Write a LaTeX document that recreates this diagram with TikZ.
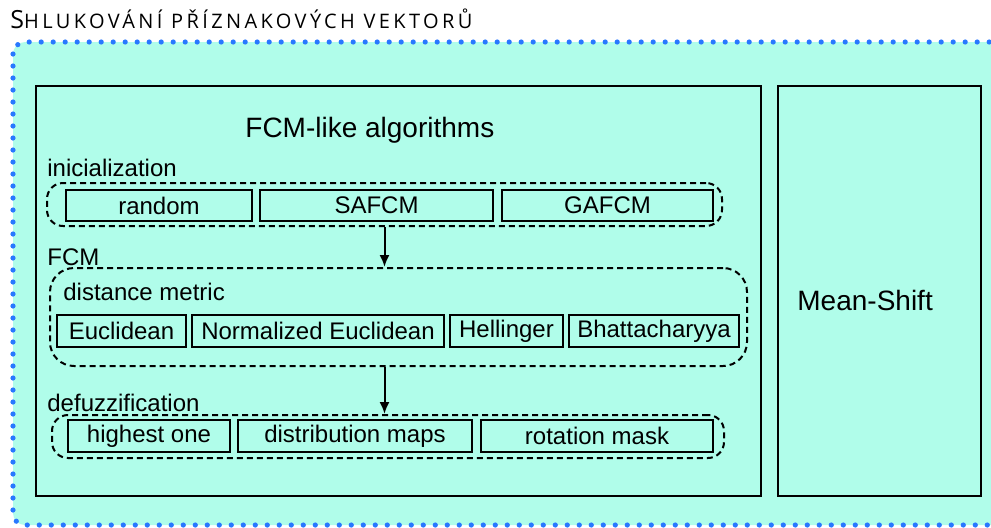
\documentclass[tikz,border=0pt]{standalone}
\usepackage{fontspec}
\setmainfont{Liberation Sans}
\newfontfamily\titlefont[LetterSpace=17]{Open Sans}
\usepackage{xcolor}
\usetikzlibrary{arrows.meta,positioning}

\definecolor{aquabg}{RGB}{176,253,234}
\definecolor{dotblue}{RGB}{40,120,255}

\tikzset{
  item/.style={draw, line width=1pt, inner sep=0pt, font=\fontsize{12}{14}\selectfont},
  group/.style={draw, dash pattern=on 3pt off 2pt, line width=1pt, rounded corners=8pt, inner sep=0pt},
  grouplabel/.style={anchor=base west, inner sep=0pt, font=\fontsize{12}{14}\selectfont},
  flow/.style={-{Latex[length=6pt,width=5pt]}, line width=1pt},
}

\begin{document}
\begin{tikzpicture}[x=0.5pt, y=-0.5pt]
\clip (0,0) rectangle (991,527);
% outer cluster
\fill[aquabg, rounded corners=6pt] (13,42) rectangle (1010,525);
\draw[dotblue, line width=2.6pt, dash pattern=on 0pt off 6pt, line cap=round, rounded corners=6pt] (13,42) rectangle (1010,525);
\node[anchor=base west, inner sep=0pt] (title) at (10,28.5) {\titlefont{\fontsize{12.5}{13}\selectfont S}\fontsize{10}{12}\selectfont HLUKOVÁNÍ PŘÍZNAKOVÝCH VEKTORŮ};

% main boxes
\node[draw, line width=1pt, minimum width=362.5pt, minimum height=205pt] (fcmlike) at (398.5,291) {};
\node[draw, line width=1pt, minimum width=101.5pt, minimum height=205pt] (meanshift) at (879.5,291) {};
\node[anchor=base west, inner sep=0pt, font=\fontsize{14}{16}\selectfont] (fcmtitle) at (245,137) {FCM-like algorithms};
\node[anchor=base west, inner sep=0pt, font=\fontsize{14}{16}\selectfont] (mstitle) at (797,310) {Mean-Shift};

% inicialization
\node[grouplabel] (initlabel) at (47,176) {inicialization};
\node[group, minimum width=337.5pt, minimum height=21.5pt] (init) at (384.5,204.5) {};
\node[item, minimum width=93pt, minimum height=15.5pt] (random) at (159,205.5) {random};
\node[item, minimum width=116.5pt, minimum height=15.5pt] (safcm) at (376.5,205.5) {SAFCM};
\node[item, minimum width=105.5pt, minimum height=15.5pt] (gafcm) at (607.5,205.5) {GAFCM};

% FCM
\node[grouplabel] (fcmlabel) at (47,265) {FCM};
\node[group, rounded corners=12pt, minimum width=348.5pt, minimum height=49pt] (fcm) at (398.5,317) {};
\node[grouplabel] (distlabel) at (63,300.5) {distance metric};
\node[item, minimum width=64.5pt, minimum height=16pt] (euclid) at (121.5,331) {Euclidean};
\node[item, minimum width=126pt, minimum height=16pt] (normeuclid) at (318,331) {Normalized Euclidean};
\node[item, minimum width=56.5pt, minimum height=16pt] (hellinger) at (506.5,331) {Hellinger};
\node[item, minimum width=85pt, minimum height=16pt] (bhatta) at (654,331) {Bhattacharyya};

% defuzzification
\node[grouplabel] (defuzzlabel) at (47,411) {defuzzification};
\node[group, minimum width=336pt, minimum height=21.5pt] (defuzz) at (388,436.5) {};
\node[item, minimum width=81pt, minimum height=16pt] (highest) at (149,436) {highest one};
\node[item, minimum width=117pt, minimum height=16pt] (distmaps) at (355,436) {distribution maps};
\node[item, minimum width=116pt, minimum height=16pt] (rotmask) at (597,436) {rotation mask};

\draw[flow] (init.south) -- (init.south |- fcm.north);
\draw[flow] (init.south |- fcm.south) -- (init.south |- defuzz.north);
\end{tikzpicture}
\end{document}
